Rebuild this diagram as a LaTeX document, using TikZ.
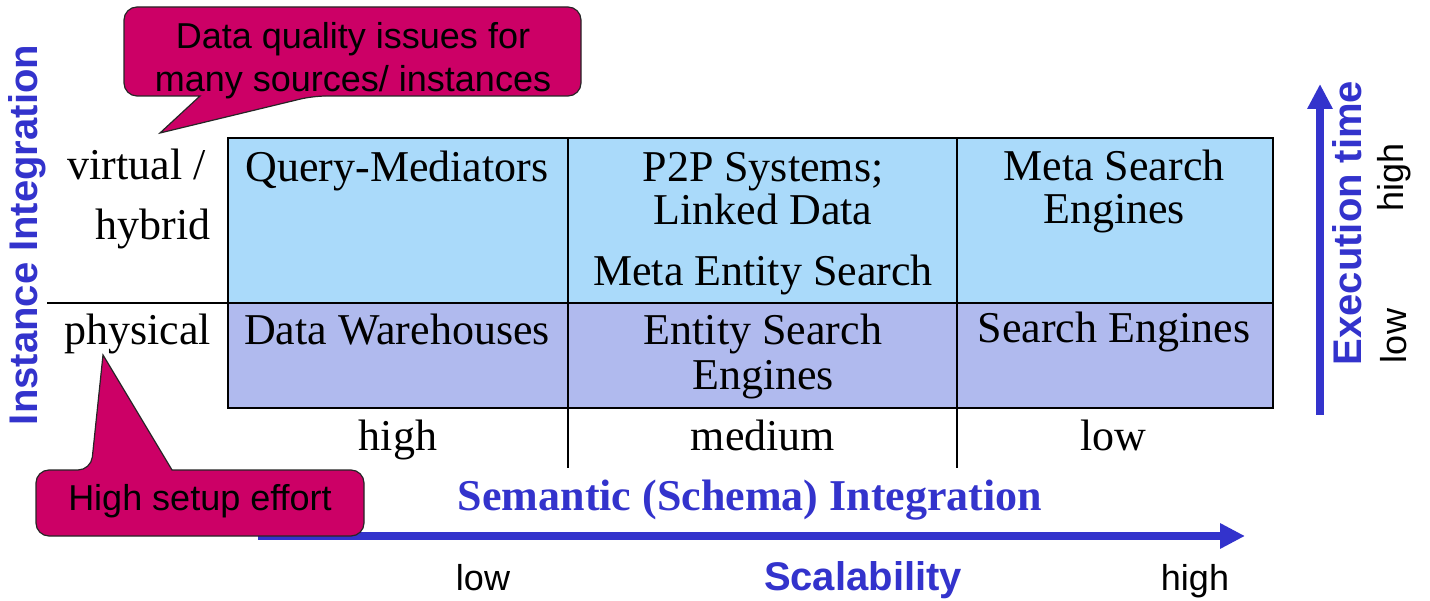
\documentclass[tikz,border=0pt]{standalone}
\usepackage{fontspec}
\setmainfont{Liberation Serif}
\setsansfont{Liberation Sans}
\usetikzlibrary{arrows.meta}

\definecolor{rowvirtual}{RGB}{170,218,250}
\definecolor{rowphysical}{RGB}{176,186,238}
\definecolor{axisblue}{RGB}{51,51,204}
\definecolor{calloutred}{RGB}{204,0,102}

\begin{document}
\begin{tikzpicture}[x=1pt,y=-1pt,
  cell/.style={font=\fontsize{44}{44}\selectfont, anchor=base, inner sep=0pt},
  rowlabel/.style={font=\fontsize{44}{44}\selectfont, anchor=base east, inner sep=0pt},
  grid/.style={draw=black, line width=2.5pt},
  axis/.style={draw=axisblue, line width=8pt,
    -{Triangle[width=24pt,length=25pt]}},
  axistitle/.style={font=\sffamily\bfseries\fontsize{40}{40}\selectfont,
    text=axisblue, inner sep=0pt},
  axisend/.style={font=\sffamily\fontsize{36}{36}\selectfont, inner sep=0pt},
  callout/.style={fill=calloutred, draw=black!85, line width=1.2pt},
  callouttext/.style={font=\sffamily\fontsize{36}{36}\selectfont,
    anchor=base, inner sep=0pt}]
\useasboundingbox (0,0) rectangle (1430,601);

% table background rows
\fill[rowvirtual]  (228,138) rectangle (1273,303);
\fill[rowphysical] (228,303) rectangle (1273,408);

% table rules
\draw[grid] (228,138) rectangle (1273,408);
\draw[grid] (47,303) -- (1273,303);
\draw[grid] (568,138) -- (568,468);
\draw[grid] (957,138) -- (957,468);

% row labels
\node[rowlabel] (virt) at (206,180) {virtual /};
\node[rowlabel] (hyb)  at (211,240) {hybrid};
\node[rowlabel] (phys) at (211,345) {physical};

% upper row
\node[cell] (qm)   at (397,182) {Query-Mediators};
\node[cell] (p2p)  at (763,182) {P2P Systems;};
\node[cell] (ld)   at (763,225) {Linked Data};
\node[cell] (mes)  at (763,286) {Meta Entity Search};
\node[cell] (msa)  at (1114,181) {Meta Search};
\node[cell] (msb)  at (1114,224) {Engines};

% lower row
\node[cell] (dw)   at (397,345) {Data Warehouses};
\node[cell] (esa)  at (763,345) {Entity Search};
\node[cell] (esb)  at (763,390) {Engines};
\node[cell] (se)   at (1114,343) {Search Engines};

% column labels
\node[cell] (chigh) at (398,450) {high};
\node[cell] (cmed)  at (763,450) {medium};
\node[cell] (clow)  at (1113,450) {low};

% horizontal axis
\node[font=\bfseries\fontsize{44}{44}\selectfont, text=axisblue,
  anchor=base, inner sep=0pt] (sem) at (750,510) {Semantic (Schema) Integration};
\coordinate (hstart) at (258,536);
\coordinate (hend) at (1245,536);
\draw[axis] (hstart) -- (hend);
\node[axisend, anchor=base] (slow) at (483,590) {low};
\node[axistitle, anchor=base] (scal) at (863,590) {Scalability};
\node[axisend, anchor=base] (shigh) at (1195,590) {high};

% vertical axis
\coordinate (vstart) at (1320,415);
\coordinate (vend) at (1320,84);
\draw[axis] (vstart) -- (vend);
\node[axistitle, rotate=90] (exec) at (1347,223) {Execution time};
\node[axisend, rotate=90] (ehigh) at (1394,177) {high};
\node[axisend, rotate=90] (elow) at (1394,336) {low};

% left axis title
\node[axistitle, rotate=90] (inst) at (27,235) {Instance Integration};

% callout: data quality
\draw[callout] (160,133) -- (200,96) [rounded corners=13pt] -- (124,96)
  -- (124,7) -- (581,7) -- (581,96) -- (313,96) [sharp corners] -- cycle;
\node[callouttext] (dq1) at (353,49) {Data quality issues for};
\node[callouttext] (dq2) at (353,92) {many sources/ instances};

% callout: setup effort
\draw[callout] (103,355) -- (172,470) [rounded corners=13pt] -- (364,470)
  -- (364,536) -- (36,536) -- (36,470) -- (91,470) [sharp corners] -- cycle;
\node[callouttext] (hse) at (200,510) {High setup effort};
\end{tikzpicture}
\end{document}
